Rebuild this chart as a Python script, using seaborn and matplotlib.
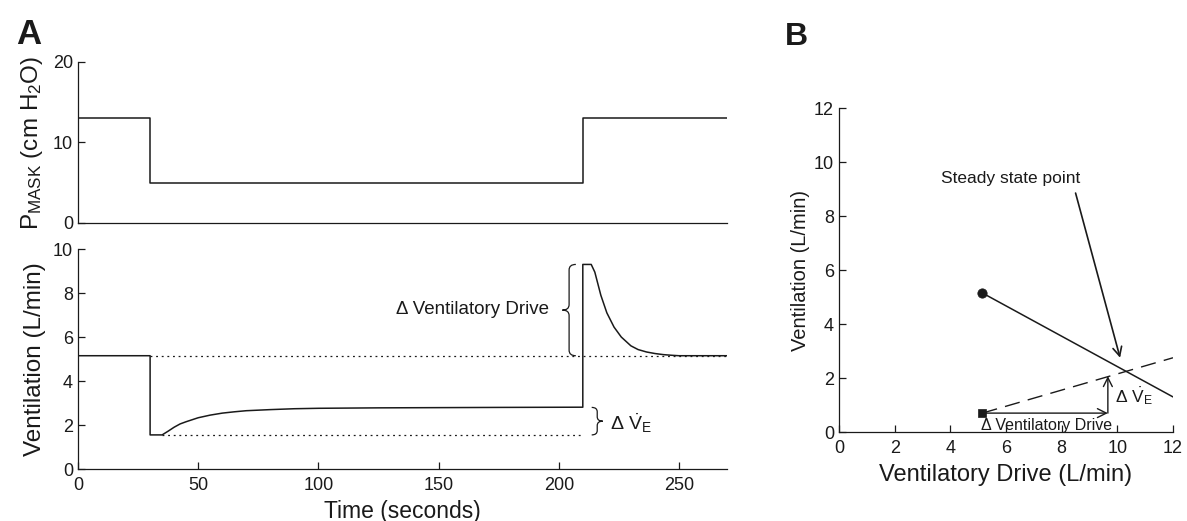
import numpy as np
import matplotlib
matplotlib.use("Agg")
import matplotlib.pyplot as plt
from matplotlib.path import Path
from matplotlib.patches import PathPatch
import seaborn as sns

# Panel A, top: mask pressure (cm H2O) vs time (s)
pressure_time = [0, 30, 30, 210, 210, 270]
pressure = [13, 13, 5, 5, 13, 13]

# Panel A, bottom: ventilation (L/min) vs time (s)
vent_time = [0, 30, 30, 35, 37.5, 40, 42.5, 45, 50, 55, 60, 65, 70, 80, 90,
             100, 125, 150, 175, 210, 210, 213.5, 215, 217.5, 220, 223, 226,
             230, 233, 236.5, 240, 243.5, 247, 250, 270]
vent = [5.15, 5.15, 1.55, 1.55, 1.72, 1.9, 2.05, 2.15, 2.33, 2.45, 2.54, 2.6,
        2.65, 2.7, 2.74, 2.76, 2.78, 2.79, 2.8, 2.81, 9.3, 9.3, 8.95, 7.9,
        7.1, 6.45, 6.0, 5.6, 5.43, 5.32, 5.25, 5.2, 5.17, 5.15, 5.15]

baseline_vent = 5.15
trough_vent = 1.55
plateau_vent = 2.8
peak_vent = 9.3
upper_dotted_time = [30, 270]
lower_dotted_time = [35, 210]

# Panel B: ventilatory drive vs ventilation (L/min)
controller_drive = [5.15, 12]
controller_vent = [5.15, 1.3]
plant_drive = [5.15, 12]
plant_vent = [0.7, 2.75]
start_point = (5.15, 5.15)
open_point = (5.15, 0.7)
drive_step_end = 9.66
vent_step_end = 2.07
steady_arrow_from = (8.5, 8.85)
steady_arrow_to = (10.1, 2.75)

ink = "#1a1a1a"

sns.set_style("ticks")
plt.rcParams["font.family"] = ["Liberation Sans", "DejaVu Sans"]
plt.rcParams["mathtext.fontset"] = "custom"
plt.rcParams["mathtext.rm"] = "Liberation Sans"
plt.rcParams["mathtext.it"] = "Liberation Sans:italic"
plt.rcParams["mathtext.bf"] = "Liberation Sans:bold"
plt.rcParams["axes.edgecolor"] = ink
plt.rcParams["axes.linewidth"] = 0.9
plt.rcParams["text.color"] = ink
plt.rcParams["axes.labelcolor"] = ink
plt.rcParams["xtick.color"] = ink
plt.rcParams["ytick.color"] = ink


def brace(ax, x, y0, y1, q, r, tip):
    # curly brace along y0..y1 at x; tip = -1 points left, +1 points right
    ym = (y0 + y1) / 2
    h = -tip * q
    verts = [(x + h, y1), (x, y1), (x, y1 - r), (x, ym + r), (x, ym),
             (x + tip * q, ym), (x, ym), (x, ym - r), (x, y0 + r),
             (x, y0), (x + h, y0)]
    codes = [Path.MOVETO, Path.CURVE3, Path.CURVE3, Path.LINETO, Path.CURVE3,
             Path.CURVE3, Path.CURVE3, Path.CURVE3, Path.LINETO, Path.CURVE3,
             Path.CURVE3]
    ax.add_patch(PathPatch(Path(verts, codes), fill=False, color=ink, lw=0.9))


def style(ax):
    ax.tick_params(direction="in", length=5, width=0.9, labelsize=13)
    ax.tick_params(axis="x", pad=5.5)
    ax.tick_params(axis="y", pad=3.5)
    sns.despine(ax=ax)


fig = plt.figure(figsize=(11.87, 5.21), dpi=100)
ax_p = fig.add_axes([0.0657, 0.572, 0.5468, 0.309])
ax_v = fig.add_axes([0.0657, 0.0998, 0.5468, 0.4222])
ax_b = fig.add_axes([0.7068, 0.1708, 0.2814, 0.6219])

# --- A top: pressure
sns.lineplot(x=pressure_time, y=pressure, ax=ax_p, color=ink, lw=1.1,
             estimator=None, sort=False)
ax_p.set_xlim(0, 270)
ax_p.set_ylim(0, 20)
ax_p.set_yticks([0, 10, 20])
ax_p.set_xticks([])
ax_p.set_ylabel(r"P$_{\mathrm{MASK}}$ (cm H$_2$O)", fontsize=17.5)
style(ax_p)
ax_p.yaxis.set_label_coords(-0.051, 0.5)

# --- A bottom: ventilation
sns.lineplot(x=vent_time, y=vent, ax=ax_v, color=ink, lw=1.1,
             estimator=None, sort=False)
ax_v.plot(upper_dotted_time, [baseline_vent] * 2, ls=(0, (1.5, 3)), color=ink, lw=0.9)
ax_v.plot(lower_dotted_time, [trough_vent] * 2, ls=(0, (1.5, 3)), color=ink, lw=0.9)
brace(ax_v, 204.3, baseline_vent, peak_vent, 2.8, 0.25, -1)
brace(ax_v, 216, trough_vent, plateau_vent, 2.3, 0.2, 1)
ax_v.text(196, 7.25, "Δ Ventilatory Drive", fontsize=13.5, ha="right", va="center")
ax_v.text(221.5, 2.1, r"Δ $\dot{\mathrm{V}}_{\mathrm{E}}$", fontsize=14,
          ha="left", va="center")
ax_v.set_xlim(0, 270)
ax_v.set_ylim(0, 10)
ax_v.set_xticks(range(0, 251, 50))
ax_v.set_yticks(range(0, 11, 2))
ax_v.set_xlabel("Time (seconds)", fontsize=16.5)
ax_v.set_ylabel("Ventilation (L/min)", fontsize=17.5)
style(ax_v)
ax_v.yaxis.set_label_coords(-0.05, 0.5)
ax_v.xaxis.set_label_coords(0.5, -0.14)

# --- B: steady state diagram
sns.lineplot(x=controller_drive, y=controller_vent, ax=ax_b, color=ink, lw=1.1,
             estimator=None, sort=False)
sns.lineplot(x=plant_drive, y=plant_vent, ax=ax_b, color=ink, lw=1.0,
             estimator=None, sort=False)
ax_b.lines[-1].set_linestyle((0, (11, 6)))
sns.scatterplot(x=[start_point[0]], y=[start_point[1]], ax=ax_b, color=ink,
                marker="o", s=45, edgecolor=ink, zorder=5)
sns.scatterplot(x=[open_point[0]], y=[open_point[1]], ax=ax_b, color=ink,
                marker="s", s=38, edgecolor=ink, zorder=5)
arrow = dict(arrowstyle="->", color=ink, lw=1.0, shrinkA=0, shrinkB=0,
             mutation_scale=16)
ax_b.annotate("", xy=(drive_step_end, open_point[1]), xytext=open_point,
              arrowprops=arrow)
ax_b.annotate("", xy=(drive_step_end, vent_step_end),
              xytext=(drive_step_end, open_point[1]), arrowprops=arrow)
ax_b.annotate("", xy=steady_arrow_to, xytext=steady_arrow_from,
              arrowprops=dict(arrow, lw=1.2))
ax_b.text(6.15, 9.4, "Steady state point", fontsize=12.5, ha="center", va="center")
ax_b.text(5.12, 0.25, "Δ Ventilatory Drive", fontsize=11.5, ha="left", va="center")
ax_b.text(9.9, 1.35, r"Δ $\dot{\mathrm{V}}_{\mathrm{E}}$", fontsize=12.5,
          ha="left", va="center")
ax_b.set_xlim(0, 12)
ax_b.set_ylim(0, 12)
ax_b.set_xticks(range(0, 13, 2))
ax_b.set_yticks(range(0, 13, 2))
ax_b.set_xlabel("Ventilatory Drive (L/min)", fontsize=17)
ax_b.set_ylabel("Ventilation (L/min)", fontsize=14.5)
style(ax_b)
ax_b.yaxis.set_label_coords(-0.087, 0.5)
ax_b.xaxis.set_label_coords(0.5, -0.1)

fig.text(0.014, 0.965, "A", fontsize=25, fontweight="bold", va="top")
fig.text(0.661, 0.958, "B", fontsize=23, fontweight="bold", va="top")

fig.savefig("out.png", dpi=100)
